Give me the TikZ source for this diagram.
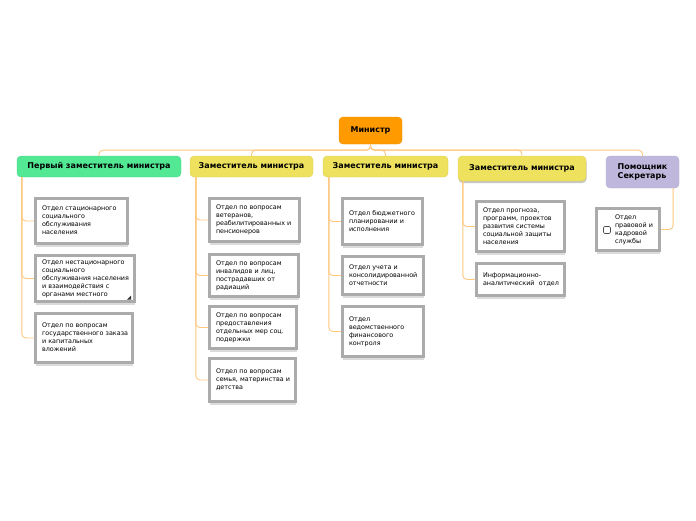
\documentclass[tikz,border=0pt]{standalone}
\usepackage{fontspec}
\setmainfont{DejaVu Sans}
\usetikzlibrary{shadows}
\definecolor{linec}{HTML}{FFC77E}
\definecolor{mincol}{HTML}{FF9A00}
\definecolor{greencol}{HTML}{52E894}
\definecolor{yelcol}{HTML}{EDE15E}
\definecolor{lavcol}{HTML}{BFB8DC}
\definecolor{boxgray}{HTML}{ABABAB}
\newcommand\deptfont{\fontsize{6.4}{8}\selectfont}
\newcommand\headfont{\fontsize{8}{9.6}\selectfont\bfseries}
\newcommand\dtext[1]{\begin{tabular}{@{}l@{}}#1\end{tabular}}
\begin{document}
\begin{tikzpicture}[x=1pt,y=-1pt,
  conn/.style={draw=linec,line width=0.9pt,rounded corners=4pt},
  headbox/.style={rectangle,rounded corners=4pt,inner sep=2pt,font=\headfont,align=center},
  dept/.style={rectangle,draw=boxgray,line width=3pt,fill=white,inner xsep=6.5pt,inner ysep=1pt,
     align=left,font=\deptfont,
     drop shadow={shadow xshift=0.5pt,shadow yshift=-3.5pt,fill=black!14,opacity=1}},
  chkbox/.style={rectangle,draw=black!70,line width=0.6pt,rounded corners=1.2pt,fill=white,
     minimum width=7pt,minimum height=7pt,inner sep=0pt}
]
\useasboundingbox (0,0) rectangle (696,520);

% top level
\node[headbox,fill=mincol,draw=mincol!90!black,line width=0.3pt,minimum width=63pt,minimum height=27pt] (m) at (370.5,130.5) {Министр};

\node[headbox,fill=greencol,draw=greencol!90!black,line width=0.3pt,minimum width=164pt,minimum height=21pt] (h1) at (99,166.5) {Первый заместитель министра};
\node[headbox,fill=yelcol,draw=yelcol!92!black,line width=0.3pt,minimum width=123pt,minimum height=21pt] (h2) at (251.5,166.5) {Заместитель министра};
\node[headbox,fill=yelcol,draw=yelcol!92!black,line width=0.3pt,minimum width=125pt,minimum height=21pt] (h3) at (385.5,166.5) {Заместитель министра};
\node[headbox,fill=yelcol,draw=yelcol!92!black,line width=0.3pt,minimum width=128pt,minimum height=25pt,
   drop shadow={shadow xshift=0.5pt,shadow yshift=-2pt,fill=black!22,opacity=1}] (h4) at (522,168.5) {Заместитель министра};
\node[headbox,fill=lavcol,draw=lavcol!92!black,line width=0.3pt,minimum width=73pt,minimum height=32pt,align=left] (h5) at (642.5,172) {Помощник\\Секретарь};

% connectors from minister
\draw[conn] (m.south) -- ++(0,6) -| (h1.north);
\draw[conn] (m.south) -- ++(0,6) -| (h2.north);
\draw[conn] (m.south) -- ++(0,6) -| (h3.north);
\draw[conn] (m.south) -- ++(0,6) -| (h4.north);
\draw[conn] (m.south) -- ++(0,6) -| (h5.north);

% column 1
\node[dept,minimum width=92pt,minimum height=45pt,text width=79pt] (c1a) at (81.5,221)
  {\dtext{Отдел стационарного\\социального\\обслуживания\\населения}};
\node[dept,minimum width=99pt,minimum height=46pt,text width=86pt] (c1b) at (85,278.5)
  {\dtext{Отдел нестационарного\\социального\\обслуживания населения\\и взаимодействия с\\органами местного}};
\node[dept,minimum width=97pt,minimum height=49pt,text width=84pt] (c1c) at (84,338)
  {\dtext{Отдел по вопросам\\государственного заказа\\и капитальных\\вложений}};
\fill[black!80] ([shift={(-5pt,3.5pt)}]c1b.south east) -- ++(-4,0) -- ++(4,-4) -- cycle;

\draw[conn] ([xshift=5pt]h1.south west) |- (c1a.west);
\draw[conn] ([xshift=5pt]h1.south west) |- (c1b.west);
\draw[conn] ([xshift=5pt]h1.south west) |- (c1c.west);

% column 2
\node[dept,minimum width=90pt,minimum height=43pt,text width=77pt] (c2a) at (254.5,220)
  {\dtext{Отдел по вопросам\\ветеранов,\\реабилитированных и\\пенсионеров}};
\node[dept,minimum width=89pt,minimum height=42pt,text width=76pt] (c2b) at (254,275.5)
  {\dtext{Отдел по вопросам\\инвалидов и лиц,\\пострадавших от\\радиаций}};
\node[dept,minimum width=87pt,minimum height=42pt,text width=74pt] (c2c) at (253,327.5)
  {\dtext{Отдел по вопросам\\предоставления\\отдельных мер соц.\\подержки}};
\node[dept,minimum width=86pt,minimum height=43pt,text width=73pt] (c2d) at (252.5,380)
  {\dtext{Отдел по вопросам\\семья, материнства и\\детства}};

\draw[conn] ([xshift=6pt]h2.south west) |- (c2a.west);
\draw[conn] ([xshift=6pt]h2.south west) |- (c2b.west);
\draw[conn] ([xshift=6pt]h2.south west) |- (c2c.west);
\draw[conn] ([xshift=6pt]h2.south west) |- (c2d.west);

% column 3
\node[dept,minimum width=80pt,minimum height=46pt,text width=67pt] (c3a) at (382.5,221.5)
  {\dtext{Отдел бюджетного\\планировании и\\исполнения}};
\node[dept,minimum width=81pt,minimum height=38pt,text width=68pt] (c3b) at (383,275.5)
  {\dtext{Отдел учета и\\консолидированной\\отчетности}};
\node[dept,minimum width=81pt,minimum height=50pt,text width=68pt] (c3c) at (383,331.5)
  {\dtext{Отдел\\ведомственного\\финансового\\контроля}};

\draw[conn] ([xshift=6pt]h3.south west) |- (c3a.west);
\draw[conn] ([xshift=6pt]h3.south west) |- (c3b.west);
\draw[conn] ([xshift=6pt]h3.south west) |- (c3c.west);

% column 4
\node[dept,minimum width=88pt,minimum height=50pt,text width=75pt] (c4a) at (520.5,226.5)
  {\dtext{Отдел прогноза,\\программ, проектов\\развития системы\\социальной защиты\\населения}};
\node[dept,minimum width=88pt,minimum height=32pt,text width=75pt] (c4b) at (520.5,279.5)
  {\dtext{Информационно-\\аналитический~ отдел}};

\draw[conn] ([xshift=5pt]h4.south west) |- (c4a.west);
\draw[conn] ([xshift=5pt]h4.south west) |- (c4b.west);

% column 5
\node[dept,minimum width=63pt,minimum height=42pt,text width=50pt] (c5) at (628,229.5)
  {\hspace*{12pt}\dtext{Отдел\\правовой и\\кадровой\\службы}};
\node[chkbox] (chk) at (607,230) {};
\draw[conn] ([xshift=-6pt]h5.south east) |- (c5.east);
\end{tikzpicture}
\end{document}
